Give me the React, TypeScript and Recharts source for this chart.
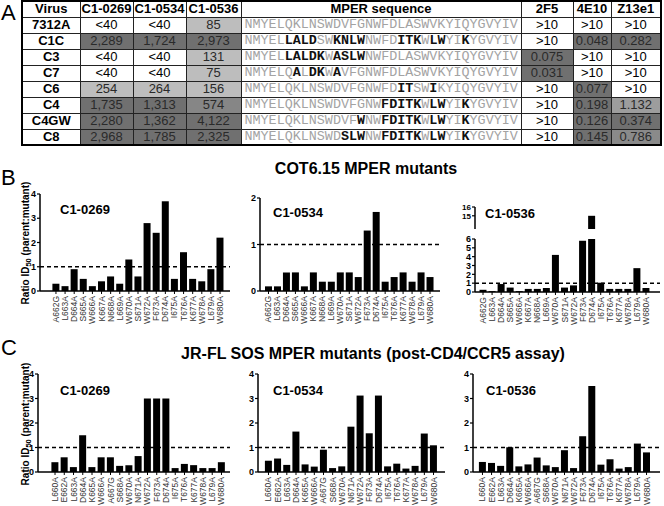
import React from "react";
import { BarChart, Bar, XAxis, YAxis, ReferenceLine } from "recharts";

// panel A table
const viruses = ["7312A", "C1C", "C3", "C7", "C6", "C4", "C4GW", "C8"];
const titer0269 = ["<40", "2,289", "<40", "<40", "254", "1,735", "2,280", "2,968"];
const titer0534 = ["<40", "1,724", "<40", "<40", "264", "1,313", "1,362", "1,785"];
const titer0536 = ["85", "2,973", "131", "75", "156", "574", "4,122", "2,325"];
const mperSeqs = [
  "NMYELQKLNSWDVFGNWFDLASWVKYIQYGVYIV",
  "NMYEL[LALD]SW[KNLW]NWFD[ITK]W[LW]YI[K]YGVYIV",
  "NMYEL[LALDK]W[ASLW]NWFDLASWVKYIQYGVYIV",
  "NMYELQ[A]L[DK]W[A]VFGNWFDLASWVKYIQYGVYIV",
  "NMYELQKLNSWDVFGNWFD[IT]SW[I]KYIQYGVYIV",
  "NMYELQKLNSWDVFGNW[FDITK]W[LW]YI[K]YGVYIV",
  "NMYELQKLNSWDVF[W]NW[FDITK]W[LW]YI[K]YGVYIV",
  "NMYELQKLNSWD[SLW]NW[FDITK]W[LW]YI[K]YGVYIV",
];
const ic2F5 = [">10", ">10", "0.075", "0.031", ">10", ">10", ">10", ">10"];
const ic4E10 = [">10", "0.048", ">10", ">10", "0.077", "0.198", "0.126", "0.145"];
const icZ13e1 = [">10", "0.282", ">10", ">10", ">10", "1.132", "0.374", "0.786"];

// panel B / C mutants
const cotMutants = ["A662G", "L663A", "D664A", "S665A", "W666A", "K667A", "N668A", "L669A", "W670A", "S671A", "W672A", "F673A", "D674A", "I675A", "T676A", "K677A", "W678A", "L679A", "W680A"];
const jrflMutants = ["L660A", "E662A", "L663A", "D664A", "K665A", "W666A", "A667G", "S668A", "W670A", "N671A", "W672A", "F673A", "D674A", "I675A", "T676A", "K677A", "W678A", "L679A", "W680A"];

const cot0269 = [0.3, 0.2, 0.9, 0.5, 0.2, 0.4, 0.6, 0.3, 1.3, 0.6, 2.8, 2.4, 3.7, 0.5, 1.6, 0.5, 0.4, 0.9, 2.2];
const cot0534 = [0.1, 0.1, 0.4, 0.4, 0.1, 0.4, 0.2, 0.2, 0.4, 0.4, 0.3, 1.3, 1.7, 0.2, 0.3, 0.4, 0.2, 0.4, 0.3];
const cot0536 = [0.25, 0.1, 0.9, 0.5, 0.1, 0.35, 0.35, 0.45, 4.2, 0.5, 0.75, 5.8, 15, 1.05, 0.35, 0.35, 0.35, 2.7, 0.45];

const jrfl0269 = [0.4, 0.6, 0.2, 1.5, 0.2, 0.6, 0.6, 0.25, 0.28, 0.65, 3.0, 3.0, 3.0, 0.16, 0.33, 0.28, 0.16, 0.16, 0.4];
const jrfl0534 = [0.46, 0.55, 0.29, 1.65, 0.31, 0.22, 0.91, 0.16, 0.23, 1.85, 3.12, 1.58, 3.12, 0.23, 0.34, 0.14, 0.25, 1.57, 1.09];
const jrfl0536 = [0.41, 0.37, 0.25, 1.01, 0.23, 0.31, 0.59, 0.27, 0.2, 0.89, 0.16, 1.46, 3.51, 0.3, 0.52, 0.14, 0.2, 1.16, 0.8];

const FONT = "'Liberation Sans', Arial, sans-serif";

const toRows = (names: string[], vals: (number | null)[]) =>
  names.map((name, i) => ({ name, v: vals[i] }));

function titerBg(s: string) {
  if (s.startsWith("<")) return "#fff";
  const v = Number(s.replace(/,/g, ""));
  if (v >= 1000) return "#707070";
  if (v >= 500) return "#868686";
  return "#bdbdbd";
}

function icBg(s: string) {
  if (s.startsWith(">")) return "#fff";
  const v = Number(s);
  if (v < 0.5) return "#707070";
  if (v < 1) return "#8a8a8a";
  return "#9d9d9d";
}

function Seq({ s }: { s: string }) {
  const parts = s.split(/(\[[^\]]+\])/).filter(Boolean);
  return (
    <span>
      {parts.map((p, i) =>
        p.startsWith("[") ? (
          <b key={i} style={{ color: "#111" }}>{p.slice(1, -1)}</b>
        ) : (
          <span key={i} style={{ color: "#a3a3a3" }}>{p}</span>
        )
      )}
    </span>
  );
}

const colW = [58, 53, 53, 55, 280, 52, 38, 50];

function TableA() {
  const td = (bg: string, extra: React.CSSProperties = {}): React.CSSProperties => ({
    background: bg,
    border: "1px solid #222",
    padding: 0,
    textAlign: "center",
    color: bg === "#fff" ? "#000" : "#2a2a2a",
    ...extra,
  });
  const head = ["Virus", "C1-0269", "C1-0534", "C1-0536", "MPER sequence", "2F5", "4E10", "Z13e1"];
  return (
    <table
      style={{
        position: "absolute",
        left: 21,
        top: 0,
        borderCollapse: "collapse",
        tableLayout: "fixed",
        width: 639,
        border: "2px solid #000",
        fontFamily: FONT,
        fontSize: 13,
        lineHeight: "14px",
      }}
    >
      <colgroup>
        {colW.map((w, i) => (
          <col key={i} style={{ width: w }} />
        ))}
      </colgroup>
      <tbody>
        <tr style={{ height: 16 }}>
          {head.map((h) => (
            <td key={h} style={td("#fff", { fontWeight: "bold" })}>{h}</td>
          ))}
        </tr>
        {viruses.map((v, i) => (
          <tr key={v} style={{ height: 16 }}>
            <td style={td("#fff", { fontWeight: "bold" })}>{v}</td>
            <td style={td(titerBg(titer0269[i]))}>{titer0269[i]}</td>
            <td style={td(titerBg(titer0534[i]))}>{titer0534[i]}</td>
            <td style={td(titerBg(titer0536[i]))}>{titer0536[i]}</td>
            <td
              style={td("#fff", {
                textAlign: "left",
                paddingLeft: 3,
                fontFamily: "'Liberation Mono', 'Courier New', monospace",
                fontSize: 13.4,
                whiteSpace: "nowrap",
                overflow: "hidden",
              })}
            >
              <Seq s={mperSeqs[i]} />
            </td>
            <td style={td(icBg(ic2F5[i]))}>{ic2F5[i]}</td>
            <td style={td(icBg(ic4E10[i]))}>{ic4E10[i]}</td>
            <td style={td(icBg(icZ13e1[i]))}>{icZ13e1[i]}</td>
          </tr>
        ))}
      </tbody>
    </table>
  );
}

function RotTick(props: any) {
  const { x, y, payload } = props;
  return (
    <text
      x={x}
      y={y}
      transform={`rotate(-90 ${x} ${y})`}
      textAnchor="end"
      dominantBaseline="central"
      fontSize={8.5}
      fontFamily={FONT}
      fill="#333"
    >
      {payload.value}
    </text>
  );
}

type PanelProps = {
  names: string[];
  vals: (number | null)[];
  left: number;
  top: number;
  width: number;
  height: number;
  yW: number;
  right: number;
  padL: number;
  padR: number;
  domain: [number, number];
  ticks: number[];
  xH: number;
  hideX?: boolean;
  refLine?: boolean;
  tickFont?: number;
};

function Panel(p: PanelProps) {
  const data = toRows(p.names, p.vals);
  return (
    <div style={{ position: "absolute", left: p.left, top: p.top }}>
      <BarChart
        width={p.width}
        height={p.height}
        data={data}
        margin={{ top: 14, right: p.right, bottom: 0, left: 0 }}
      >
        <XAxis
          dataKey="name"
          interval={0}
          hide={p.hideX}
          height={p.xH}
          padding={{ left: p.padL, right: p.padR }}
          axisLine={{ stroke: "#000", strokeWidth: 1.5 }}
          tickLine={{ stroke: "#000" }}
          tickSize={3}
          tick={<RotTick />}
        />
        <YAxis
          width={p.yW}
          domain={p.domain}
          ticks={p.ticks}
          allowDataOverflow
          interval={0}
          axisLine={{ stroke: "#000", strokeWidth: 1.5 }}
          tickLine={{ stroke: "#000", strokeWidth: 1.2 }}
          tickSize={3}
          tickMargin={1}
          tick={{ fontSize: p.tickFont ?? 9, fontWeight: "bold", fill: "#000", fontFamily: FONT }}
        />
        {p.refLine && (
          <ReferenceLine y={1} stroke="#000" strokeWidth={1.5} strokeDasharray="4 3" />
        )}
        <Bar dataKey="v" fill="#000" barSize={7} isAnimationActive={false} />
      </BarChart>
    </div>
  );
}

const abs = (left: number, top: number, extra: React.CSSProperties = {}): React.CSSProperties => ({
  position: "absolute",
  left,
  top,
  whiteSpace: "nowrap",
  ...extra,
});

function YLabel({ cy }: { cy: number }) {
  return (
    <div
      style={abs(27, cy, {
        transform: "translate(-50%, -50%) rotate(-90deg)",
        fontSize: 10,
        fontWeight: "bold",
        lineHeight: "12px",
        color: "#000",
      })}
    >
      Ratio ID<span style={{ fontSize: 7.5, verticalAlign: -2 }}>50</span> (parent:mutant)
    </div>
  );
}

function PanelLabel({ left, top, text }: { left: number; top: number; text: string }) {
  return (
    <div style={abs(left, top, { fontSize: 13, fontWeight: "bold", lineHeight: "13px" })}>{text}</div>
  );
}

export default function App() {
  const cot0536Top = cot0536.map((v) => (v > 6 ? v : null));
  return (
    <div
      style={{
        position: "absolute",
        left: 0,
        top: 0,
        width: 664,
        height: 506,
        background: "#fff",
        fontFamily: FONT,
        color: "#000",
        overflow: "hidden",
      }}
    >
      <div style={abs(1, 1, { fontSize: 22, lineHeight: "24px" })}>A</div>
      <TableA />

      <div style={abs(1, 166, { fontSize: 22, lineHeight: "24px" })}>B</div>
      <div style={abs(366, 161, { transform: "translateX(-50%)", fontSize: 16, fontWeight: "bold", lineHeight: "16px" })}>
        COT6.15 MPER mutants
      </div>
      <YLabel cy={243} />

      <Panel names={cotMutants} vals={cot0269} left={0} top={180} width={230} height={151} yW={40} right={0}
        padL={11.4} padR={5.4} domain={[0, 4]} ticks={[0, 1, 2, 3, 4]} xH={40} refLine />
      <Panel names={cotMutants} vals={cot0534} left={220} top={184} width={220} height={147} yW={40} right={0}
        padL={4} padR={5.5} domain={[0, 2]} ticks={[0, 1, 2]} xH={40} refLine />
      <Panel names={cotMutants} vals={cot0536} left={440} top={225} width={224} height={107} yW={35} right={4}
        padL={3.5} padR={9.5} domain={[0, 6]} ticks={[0, 1, 2, 3, 4, 5, 6]} xH={40} refLine />
      <Panel names={cotMutants} vals={cot0536Top} left={440} top={193} width={224} height={36} yW={35} right={4}
        padL={3.5} padR={9.5} domain={[13.5, 16]} ticks={[15, 16]} xH={0} hideX tickFont={8} />

      <PanelLabel left={60} top={203} text="C1-0269" />
      <PanelLabel left={273} top={206} text="C1-0534" />
      <PanelLabel left={485} top={207} text="C1-0536" />

      <div style={abs(1, 336, { fontSize: 22, lineHeight: "24px" })}>C</div>
      <div style={abs(373, 346, { transform: "translateX(-50%)", fontSize: 16, fontWeight: "bold", lineHeight: "16px" })}>
        JR-FL SOS MPER mutants (post-CD4/CCR5 assay)
      </div>
      <YLabel cy={424} />

      <Panel names={jrflMutants} vals={jrfl0269} left={0} top={360} width={232} height={146} yW={38} right={2}
        padL={12.4} padR={3.9} domain={[0, 4]} ticks={[0, 1, 2, 3, 4]} xH={34} refLine />
      <Panel names={jrflMutants} vals={jrfl0534} left={220} top={360} width={225} height={146} yW={38} right={0}
        padL={5.9} padR={6.9} domain={[0, 4]} ticks={[0, 1, 2, 3, 4]} xH={34} refLine />
      <Panel names={jrflMutants} vals={jrfl0536} left={440} top={360} width={220} height={146} yW={33} right={0}
        padL={4.9} padR={8.9} domain={[0, 4]} ticks={[0, 1, 2, 3, 4]} xH={34} refLine />

      <PanelLabel left={60} top={384} text="C1-0269" />
      <PanelLabel left={273} top={384} text="C1-0534" />
      <PanelLabel left={486} top={384} text="C1-0536" />
    </div>
  );
}
